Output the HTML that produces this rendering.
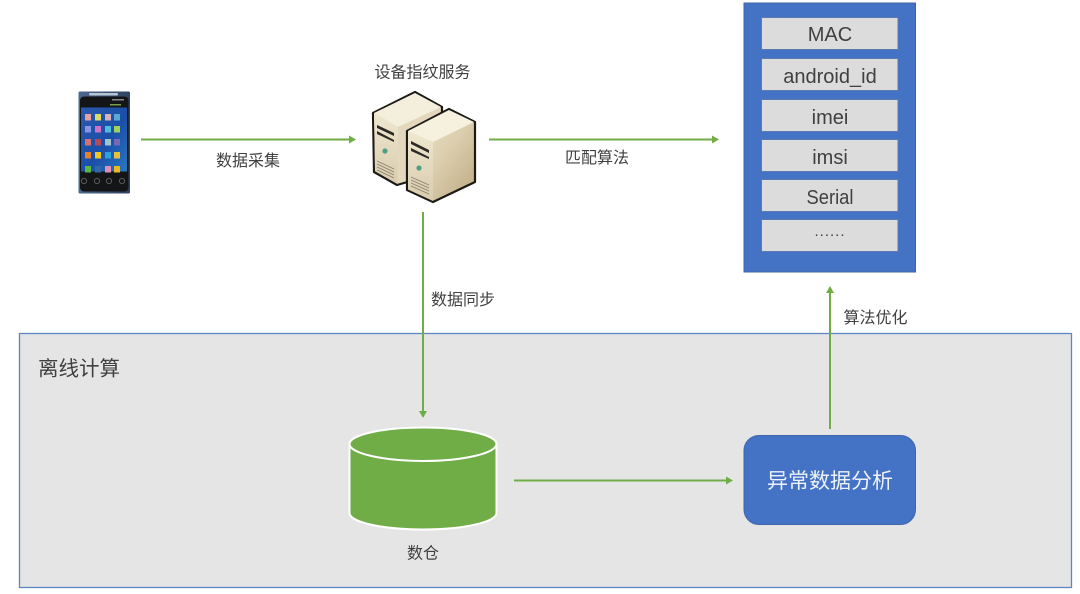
<!DOCTYPE html>
<html lang="zh">
<head>
<meta charset="utf-8">
<title>设备指纹服务</title>
<style>
html,body{margin:0;padding:0;background:#fff;width:1080px;height:594px;overflow:hidden}
svg{display:block;filter:blur(.35px)}
text{font-family:"Liberation Sans","Noto Sans CJK SC",sans-serif;fill:#404040;text-anchor:middle}
</style>
</head>
<body>
<svg width="1080" height="594" viewBox="0 0 1080 594" xmlns="http://www.w3.org/2000/svg">
<defs>
<linearGradient id="front" x1="0" y1="0" x2="0" y2="1"><stop offset="0" stop-color="#efe7d0"/><stop offset="1" stop-color="#d9ccae"/></linearGradient>
<linearGradient id="side" x1="0" y1="0" x2="1" y2="1"><stop offset="0" stop-color="#efe6d0"/><stop offset=".5" stop-color="#ddd0b0"/><stop offset="1" stop-color="#bda981"/></linearGradient>
<linearGradient id="scr" x1="0" y1="0" x2="1" y2="1"><stop offset="0" stop-color="#2b58b0"/><stop offset=".55" stop-color="#1a4fa8"/><stop offset="1" stop-color="#2a78c0"/></linearGradient>
<linearGradient id="rim" x1="0" y1="0" x2="1" y2="0"><stop offset="0" stop-color="#4c688f"/><stop offset="1" stop-color="#2f4360"/></linearGradient>
</defs>

<!-- offline panel -->
<rect x="19.5" y="333.5" width="1052" height="254" fill="#e5e5e5" stroke="#5f86c0" stroke-width="1.3"/>
<text x="79" y="375.5" font-size="20.5">离线计算</text>

<!-- phone -->
<rect x="78.5" y="91.5" width="51.5" height="102" rx="1.5" fill="url(#rim)"/>
<rect x="89" y="93" width="29" height="2.5" rx="1" fill="#b9c4d2"/>
<rect x="80" y="96.5" width="48.5" height="95" rx="4" fill="#141517"/>
<rect x="81" y="107.5" width="46" height="64" fill="url(#scr)"/>
<g>
<rect x="85" y="114" width="6" height="6.5" fill="#e8a098"/><rect x="95" y="114" width="6" height="6.5" fill="#dcdc60"/><rect x="105" y="114" width="6" height="6.5" fill="#d8b0b8"/><rect x="114" y="114" width="6" height="6.5" fill="#5aa8d4"/>
<rect x="85" y="126" width="6" height="6.5" fill="#8a96e0"/><rect x="95" y="126" width="6" height="6.5" fill="#d070c8"/><rect x="105" y="126" width="6" height="6.5" fill="#50bce0"/><rect x="114" y="126" width="6" height="6.5" fill="#a0d060"/>
<rect x="85" y="139" width="6" height="6.5" fill="#d87070"/><rect x="95" y="139" width="6" height="6.5" fill="#b84858"/><rect x="105" y="139" width="6" height="6.5" fill="#a0c4cc"/><rect x="114" y="139" width="6" height="6.5" fill="#7868b8"/>
<rect x="85" y="152" width="6" height="6.5" fill="#e88028"/><rect x="95" y="152" width="6" height="6.5" fill="#f0c820"/><rect x="105" y="152" width="6" height="6.5" fill="#30a0d8"/><rect x="114" y="152" width="6" height="6.5" fill="#e8c040"/>
<rect x="85" y="166" width="6" height="6.5" fill="#58b840"/><rect x="95" y="166" width="6" height="6.5" fill="#3068a8"/><rect x="105" y="166" width="6" height="6.5" fill="#e090b0"/><rect x="114" y="166" width="6" height="6.5" fill="#f0b820"/>
</g>
<g fill="none" stroke="#5a5a5a" stroke-width="1">
<circle cx="84" cy="181" r="2.6"/><circle cx="97" cy="181" r="2.6"/><circle cx="109" cy="181" r="2.6"/><circle cx="122" cy="181" r="2.6"/>
</g>
<rect x="110" y="104" width="11" height="1.5" fill="#7a9a50"/>
<rect x="112" y="99" width="12" height="1.5" fill="#888"/>

<!-- servers -->
<text x="422.5" y="77.5" font-size="16">设备指纹服务</text>
<g stroke-linejoin="round">
<path d="M373 113 L415 92 L442 107 L442 172 L397 185 L374 172Z" fill="#e3d8bd" stroke="#1c1a16" stroke-width="2.2"/>
<path d="M374 113 L415 93 L441 107 L398 127 Z" fill="#f4eedc"/>
<path d="M374 113 L398 127 L397.5 184 L375 171Z" fill="url(#front)"/>
</g>
<g fill="#2c2a24">
<path d="M377 125 L394 133 L394 136 L377 128Z"/>
<path d="M377 131 L394 140 L394 142 L377 134Z"/>
</g>
<circle cx="385" cy="151" r="2.6" fill="#4f9e86"/>
<g stroke="#8a8270" stroke-width=".9" fill="none">
<path d="M377 161 L394 169"/><path d="M377 164 L394 172"/><path d="M377 167 L394 175"/><path d="M377 170 L394 178"/>
</g>
<g stroke-linejoin="round">
<path d="M407 131 L449 109 L475 122 L475 182 L433 202 L407 190Z" fill="url(#side)" stroke="#1c1a16" stroke-width="2.2"/>
<path d="M408 131 L449 110 L474 122 L433 142Z" fill="#f6f0df"/>
<path d="M408 131 L433 142 L433 201 L408 189.5Z" fill="url(#front)"/>
</g>
<g fill="#2c2a24">
<path d="M411 141 L429 150 L429 153 L411 144Z"/>
<path d="M411 148 L429 157 L429 159 L411 151Z"/>
</g>
<circle cx="419" cy="168" r="2.6" fill="#4f9e86"/>
<g stroke="#8a8270" stroke-width=".9" fill="none">
<path d="M411 177 L429 185"/><path d="M411 180 L429 188"/><path d="M411 183 L429 191"/><path d="M411 186 L429 194"/>
</g>

<!-- feature box -->
<rect x="744" y="3" width="171.5" height="269" fill="#4472c4" stroke="#3f66ad" stroke-width="1"/>
<g fill="#dcdcdc" stroke="#5b7bb0" stroke-width="1">
<rect x="761.5" y="17.5" width="136.5" height="32"/>
<rect x="761.5" y="58.5" width="136.5" height="32"/>
<rect x="761.5" y="99.5" width="136.5" height="32"/>
<rect x="761.5" y="139.5" width="136.5" height="32"/>
<rect x="761.5" y="179.5" width="136.5" height="32"/>
<rect x="761.5" y="219.5" width="136.5" height="32"/>
</g>
<g font-size="20">
<text x="830" y="41">MAC</text>
<text x="830" y="83">android_id</text>
<text x="830" y="124">imei</text>
<text x="830" y="164">imsi</text>
<text x="830" y="204" textLength="47" lengthAdjust="spacingAndGlyphs">Serial</text>
<text x="830" y="236" font-size="15" letter-spacing="1">......</text>
</g>

<!-- arrows -->
<g stroke="#70ad47" stroke-width="2" fill="none">
<path d="M141 139.5H350"/>
<path d="M489 139.5H713"/>
<path d="M423 212V412"/>
<path d="M514 480.5H727"/>
<path d="M830 429V292"/>
</g>
<g fill="#70ad47">
<path d="M356 139.5L349 135.5V143.5Z"/>
<path d="M719 139.5L712 135.5V143.5Z"/>
<path d="M423 418L419 411H427Z"/>
<path d="M733 480.5L726 476.5V484.5Z"/>
<path d="M830 286L826 293H834Z"/>
</g>
<g font-size="16">
<text x="248" y="166">数据采集</text>
<text x="597" y="163">匹配算法</text>
<text x="463" y="305">数据同步</text>
<text x="875.5" y="323">算法优化</text>
<text x="423" y="558.5">数仓</text>
</g>

<!-- cylinder -->
<path d="M349.5 444 C349.5 435 382 427.5 423 427.5 C464 427.5 496.5 435 496.5 444 V513 C496.5 522 464 529.5 423 529.5 C382 529.5 349.5 522 349.5 513Z" fill="#70ad47" stroke="#fff" stroke-width="2"/>
<path d="M349.5 444 C349.5 453 382 461 423 461 C464 461 496.5 453 496.5 444" fill="none" stroke="#fff" stroke-width="2"/>

<!-- analysis box -->
<rect x="744" y="435.5" width="171.5" height="89" rx="15" fill="#4472c4" stroke="#3f66ad" stroke-width="1"/>
<text x="830" y="488" font-size="21" style="fill:#eef2fa">异常数据分析</text>
</svg>
</body>
</html>
